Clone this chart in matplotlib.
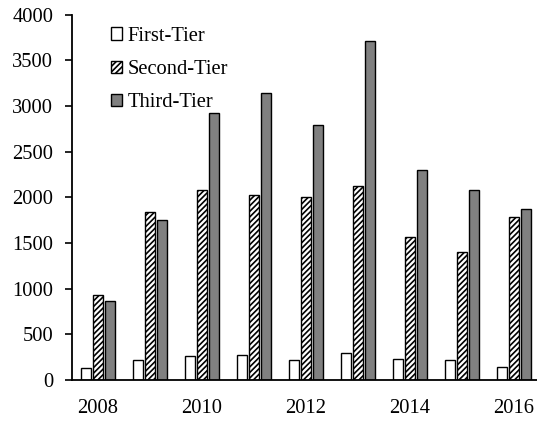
import matplotlib
matplotlib.use("Agg")
import matplotlib.pyplot as plt
import numpy as np

plt.rcParams['font.family'] = ['Liberation Serif', 'DejaVu Serif']
plt.rcParams['hatch.linewidth'] = 1.2

years = [2008, 2009, 2010, 2011, 2012, 2013, 2014, 2015, 2016]
tick_labels = ['2008', '', '2010', '', '2012', '', '2014', '', '2016']
first_tier = [128, 216, 267, 274, 216, 300, 230, 223, 146]
second_tier = [925, 1837, 2086, 2031, 2001, 2126, 1570, 1405, 1789]
third_tier = [860, 1757, 2920, 3143, 2788, 3710, 2298, 2086, 1874]

fig = plt.figure(figsize=(5.37, 4.24), dpi=100)
ax = fig.add_axes([0.134, 0.104, 0.866, 0.861])

x = np.arange(len(years))
w = 0.183
off = 0.233
ax.bar(x - off, first_tier, w, color='white', edgecolor='black', linewidth=1.0, label='First-Tier')
ax.bar(x, second_tier, w, color='white', edgecolor='black', linewidth=1.0, hatch='//////', label='Second-Tier')
ax.bar(x + off, third_tier, w, color='#808080', edgecolor='black', linewidth=1.0, label='Third-Tier')

ax.set_xlim(-0.5, 8.44)
ax.set_ylim(0, 4000)
ax.set_yticks(np.arange(0, 4001, 500))
ax.set_xticks(x)
ax.set_xticklabels(tick_labels)

for s in ['top', 'right']:
    ax.spines[s].set_visible(False)
for s in ['left', 'bottom']:
    ax.spines[s].set_linewidth(1.3)
    ax.spines[s].set_color('black')

ax.tick_params(axis='y', direction='out', length=5, width=1.2, pad=8.5, labelsize=14.8)
ax.tick_params(axis='x', length=0, pad=13.5, labelsize=14.8)

leg = ax.legend(loc='upper left', bbox_to_anchor=(0.066, 0.99), frameon=False,
                fontsize=14.8, handlelength=0.55, handleheight=0.55,
                handletextpad=0.25, labelspacing=0.7, borderaxespad=0)

fig.savefig('out.png', dpi=100)
